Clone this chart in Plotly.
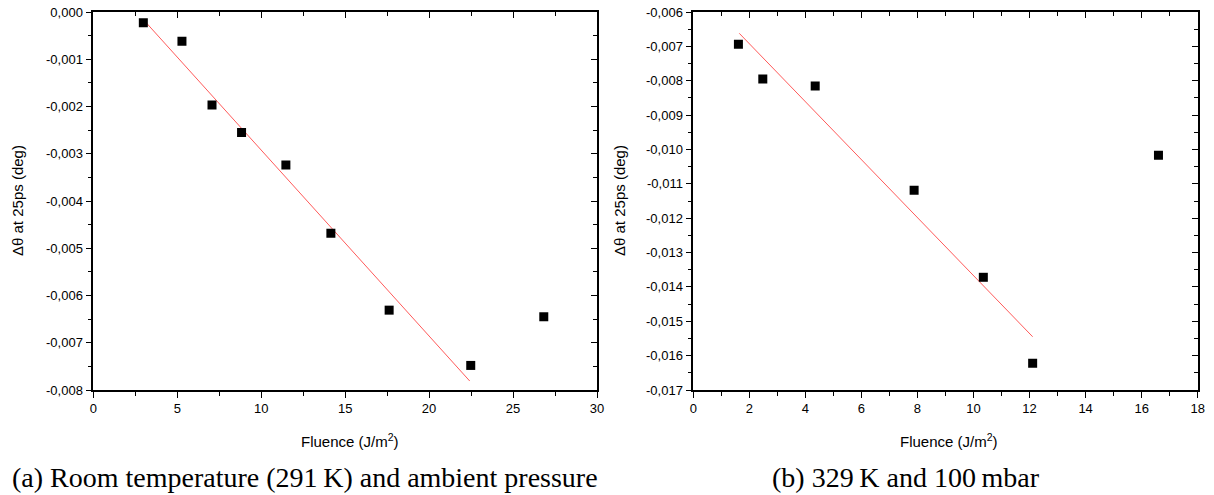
import plotly.graph_objects as go

# ---- data ----
fluence_a = [2.98, 5.28, 7.07, 8.83, 11.47, 14.15, 17.62, 22.48, 26.83]
dtheta_a = [-0.00023, -0.00062, -0.00197, -0.00255, -0.00324, -0.00468, -0.00631, -0.00748, -0.00645]
fit_a_x = [2.98, 22.42]
fit_a_y = [-0.00016, -0.00781]

fluence_b = [1.61, 2.48, 4.35, 7.88, 10.35, 12.11, 16.6]
dtheta_b = [-0.00694, -0.00795, -0.00815, -0.01119, -0.01372, -0.01622, -0.01017]
fit_b_x = [1.64, 12.11]
fit_b_y = [-0.00662, -0.01545]

xticks_a = [0, 5, 10, 15, 20, 25, 30]
yticks_a = [0.0, -0.001, -0.002, -0.003, -0.004, -0.005, -0.006, -0.007, -0.008]
xticks_b = [0, 2, 4, 6, 8, 10, 12, 14, 16, 18]
yticks_b = [-0.006, -0.007, -0.008, -0.009, -0.010, -0.011, -0.012, -0.013, -0.014, -0.015, -0.016, -0.017]

caption_a = "(a) Room temperature (291\u2009K) and ambient pressure"
caption_b = "(b) 329\u2009K and 100\u2009mbar"
ytitle = "\u0394\u03b8 at 25ps (deg)"
xtitle = "Fluence (J/m<sup>2</sup>)"

def fmt(v):
    s = f"{v:.3f}".replace(".", ",")
    if s.startswith("-0,000"):
        s = "0,000"
    return s

W, H = 1214, 495
dom_xa = [93.3 / W, 597 / W]
dom_xb = [693.3 / W, 1197.7 / W]
dom_y = [(H - 390) / H, (H - 12) / H]

fig = go.Figure()
mk = dict(symbol="square", size=9, color="black")
fit_line = dict(color="rgb(255,90,90)", width=1)

fig.add_trace(go.Scatter(x=fit_a_x, y=fit_a_y, mode="lines", line=fit_line, xaxis="x", yaxis="y", showlegend=False))
fig.add_trace(go.Scatter(x=fluence_a, y=dtheta_a, mode="markers", marker=mk, xaxis="x", yaxis="y", showlegend=False))
fig.add_trace(go.Scatter(x=fit_b_x, y=fit_b_y, mode="lines", line=fit_line, xaxis="x2", yaxis="y2", showlegend=False))
fig.add_trace(go.Scatter(x=fluence_b, y=dtheta_b, mode="markers", marker=mk, xaxis="x2", yaxis="y2", showlegend=False))
# dummy traces to activate mirror axes
for xa, ya in [("x3", "y"), ("x", "y3"), ("x4", "y2"), ("x2", "y4")]:
    fig.add_trace(go.Scatter(x=[None], y=[None], xaxis=xa, yaxis=ya, showlegend=False, hoverinfo="skip"))

tickfont = dict(family="Liberation Sans, Arial", size=13, color="black")
common = dict(showgrid=False, zeroline=False, showline=True, linecolor="black", linewidth=1.6,
              ticklen=6, tickwidth=1.3, tickcolor="black", tickfont=tickfont, automargin=False)

def minor(dt, side):
    return dict(dtick=dt, tick0=0, ticks=side, ticklen=4, tickcolor="black", tickwidth=1.3)

xa_rng = [0, 30]
ya_rng = [-0.008, 0.0]
xb_rng = [0, 18]
yb_rng = [-0.017, -0.006]

fig.update_layout(
    width=W, height=H, margin=dict(l=0, r=0, t=0, b=0, autoexpand=False),
    plot_bgcolor="white", paper_bgcolor="white",
    xaxis=dict(domain=dom_xa, anchor="y", range=xa_rng, tickvals=xticks_a, ticktext=[str(v) for v in xticks_a],
               ticks="outside", minor=minor(2.5, "outside"), **common),
    yaxis=dict(domain=dom_y, anchor="x", range=ya_rng, tickvals=yticks_a, ticktext=[fmt(v) for v in yticks_a],
               ticks="outside", minor=minor(0.0005, "outside"), **common),
    xaxis3=dict(overlaying="x", side="top", anchor="y", range=xa_rng, tickvals=xticks_a, showticklabels=False,
                ticks="inside", minor=minor(2.5, "inside"), **common),
    yaxis3=dict(overlaying="y", side="right", anchor="x", range=ya_rng, tickvals=yticks_a, showticklabels=False,
                ticks="inside", minor=minor(0.0005, "inside"), **common),
    xaxis2=dict(domain=dom_xb, anchor="y2", range=xb_rng, tickvals=xticks_b, ticktext=[str(v) for v in xticks_b],
                ticks="outside", minor=minor(1, "outside"), **common),
    yaxis2=dict(domain=dom_y, anchor="x2", range=yb_rng, tickvals=yticks_b, ticktext=[fmt(v) for v in yticks_b],
                ticks="outside", minor=minor(0.0005, "outside"), **common),
    xaxis4=dict(overlaying="x2", side="top", anchor="y2", range=xb_rng, tickvals=xticks_b, showticklabels=False,
                ticks="inside", minor=minor(1, "inside"), **common),
    yaxis4=dict(overlaying="y2", side="right", anchor="x2", range=yb_rng, tickvals=yticks_b, showticklabels=False,
                ticks="inside", minor=minor(0.0005, "inside"), **common),
)

titlefont = dict(family="Liberation Sans, Arial", size=15, color="black")
capfont = dict(family="Liberation Serif, serif", size=28, color="black")
ann = [
    dict(text=ytitle, x=18 / W, y=(H - 201) / H, textangle=-90, font=titlefont),
    dict(text=ytitle, x=620 / W, y=(H - 201) / H, textangle=-90, font=titlefont),
    dict(text=xtitle, x=350 / W, y=(H - 440) / H, font=titlefont),
    dict(text=xtitle, x=949 / W, y=(H - 440) / H, font=titlefont),
    dict(text=caption_a, x=305 / W, y=(H - 477) / H, font=capfont),
    dict(text=caption_b, x=906 / W, y=(H - 477) / H, font=capfont),
]
for a in ann:
    fig.add_annotation(xref="paper", yref="paper", showarrow=False, xanchor="center", yanchor="middle", **a)

fig.write_html("out.html")
